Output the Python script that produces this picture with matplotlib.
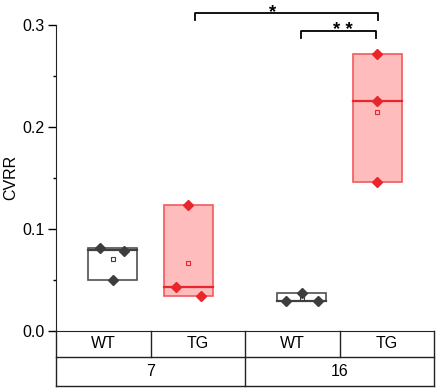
import matplotlib
matplotlib.use('Agg')
import matplotlib.pyplot as plt
import matplotlib.transforms as mtransforms
import numpy as np

plt.rcParams['font.family'] = ['Liberation Sans', 'DejaVu Sans']

# data
genotypes = ['WT', 'TG', 'WT', 'TG']
ages = ['7', '16']
points = [
    [0.0814, 0.0788, 0.0500],   # WT 7
    [0.1232, 0.0428, 0.0340],   # TG 7
    [0.0368, 0.0296, 0.0296],   # WT 16
    [0.2710, 0.2255, 0.1460],   # TG 16
]
box_lo = [0.0500, 0.0340, 0.0294, 0.1460]
box_hi = [0.0814, 0.1235, 0.0368, 0.2710]
medians = [0.0790, 0.0431, 0.0296, 0.2255]
jitter = [[-0.134, 0.123, 0.0], [0.0, -0.13, 0.13], [0.0, -0.17, 0.17], [0.0, 0.0, 0.0]]

pos = [0.6, 1.4, 2.6, 3.4]
width = 0.52
dark = '#3d3d3d'
red = '#e8262c'
styles = [
    dict(edge='#505050', face='none', med='#404040', pt=dark),
    dict(edge='#f25a5e', face='#ffbcbc', med=red, pt=red),
    dict(edge='#505050', face='none', med='#404040', pt=dark),
    dict(edge='#f25a5e', face='#ffbcbc', med=red, pt=red),
]

fig = plt.figure(figsize=(4.4, 3.91), dpi=100)
ax = fig.add_axes([56 / 440, 1 - 331 / 391, 378 / 440, 306.3 / 391])

for i in range(4):
    s = styles[i]
    x0 = pos[i] - width / 2
    ax.add_patch(plt.Rectangle((x0, box_lo[i]), width, box_hi[i] - box_lo[i],
                               facecolor=s['face'], edgecolor=s['edge'], lw=1.2, zorder=2))
    ax.plot([x0, x0 + width], [medians[i], medians[i]], color=s['med'], lw=1.6, zorder=3)
    xs = [pos[i] + j for j in jitter[i]]
    ax.plot(xs, points[i], 'D', color=s['pt'], ms=5.5, mec=s['pt'], zorder=4, clip_on=False)
    ax.plot(pos[i], np.mean(points[i]), 's', ms=2.5, mfc='none', mec=s['pt'], mew=0.8, zorder=4)

# significance brackets
ax.plot([1.468, 1.468, 3.41, 3.41], [0.3046, 0.3112, 0.3112, 0.3046], color='black', lw=1.3, clip_on=False)
ax.text(2.29, 0.3070, '*', ha='center', va='baseline', fontsize=13.5, fontweight='bold', clip_on=False)
ax.plot([2.593, 2.593, 3.39, 3.39], [0.287, 0.2938, 0.2938, 0.287], color='black', lw=1.3, clip_on=False)
ax.text(3.04, 0.2899, '* *', ha='center', va='baseline', fontsize=13.5, fontweight='bold', clip_on=False)

ax.set_xlim(0, 4)
ax.set_ylim(0, 0.3)
ax.set_yticks([0.0, 0.1, 0.2, 0.3])
ax.set_yticklabels(['0.0', '0.1', '0.2', '0.3'])
ax.set_yticks([0.05, 0.15, 0.25], minor=True)
ax.set_xticks([])
ax.tick_params(axis='y', which='major', length=5.5, width=1, labelsize=11.5, direction='out', pad=3)
ax.tick_params(axis='y', which='minor', length=2.4, width=1, direction='out')
ax.set_ylabel('CVRR', fontsize=11.5)
ax.yaxis.set_label_coords(-0.1, 0.5)
for side in ['top', 'right']:
    ax.spines[side].set_visible(False)
ax.spines['left'].set_color('#222222')
ax.spines['bottom'].set_color('#222222')

# category table below the axis
trans = mtransforms.blended_transform_factory(ax.transData, ax.transAxes)
r1 = -26 / 306.3
r2 = -55 / 306.3
lc = '#222222'
ax.plot([0, 4], [r1, r1], color=lc, lw=1, transform=trans, clip_on=False)
ax.plot([0, 4], [r2, r2], color=lc, lw=1, transform=trans, clip_on=False)
ax.plot([0, 0], [0, r2], color=lc, lw=1, transform=trans, clip_on=False)
ax.plot([4, 4], [0, r2], color=lc, lw=1, transform=trans, clip_on=False)
ax.plot([2, 2], [0, r2], color=lc, lw=1, transform=trans, clip_on=False)
ax.plot([1, 1], [0, r1], color=lc, lw=1, transform=trans, clip_on=False)
ax.plot([3, 3], [0, r1], color=lc, lw=1, transform=trans, clip_on=False)
for i, g in enumerate(genotypes):
    ax.text(i + 0.5, r1 / 2, g, ha='center', va='center', fontsize=11.5, transform=trans)
for i, a in enumerate(ages):
    ax.text(2 * i + 1, (r1 + r2) / 2, a, ha='center', va='center', fontsize=11.5, transform=trans)

fig.savefig('out.png', dpi=100)
